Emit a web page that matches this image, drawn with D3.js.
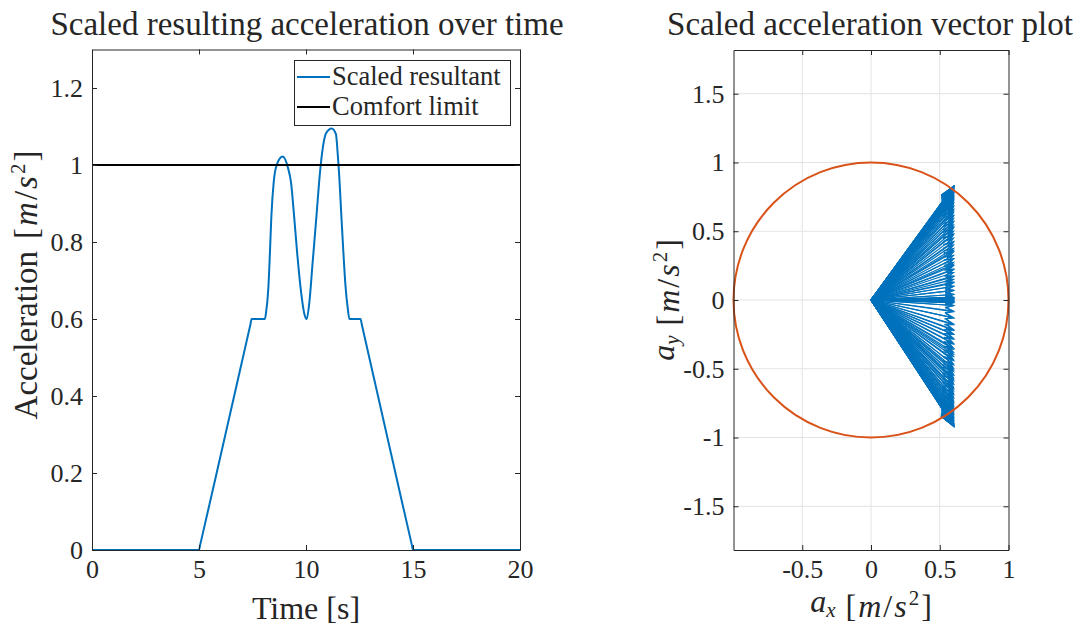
<!DOCTYPE html>
<html>
<head>
<meta charset="utf-8">
<script src="https://cdn.jsdelivr.net/npm/d3@7"></script>
<style>
  body { margin: 0; background: #fff; }
  text { font-family: "Liberation Serif", "Times New Roman", serif; fill: #262626; }
</style>
</head>
<body>
<svg id="chart" width="1080" height="627"></svg>
<script>
// ---- Scaled resultant acceleration over time ----
const timeS = [0, 5.00, 5.06, 7.40, 7.46, 8.08, 8.13, 8.24, 8.32, 8.38, 8.49, 8.63, 8.91,
  9.17, 9.30, 9.44, 9.59, 9.77, 9.93, 10.03, 10.16, 10.30, 10.50, 10.62, 10.75, 10.93,
  11.20, 11.40, 11.48, 11.56, 11.65, 11.74, 11.84, 11.95, 12.03, 12.55, 12.61, 14.94, 15.00, 20];
const resultant = [0, 0, 0.0146, 0.585, 0.6, 0.6, 0.615, 0.68, 0.78, 0.865, 0.955, 1.0, 1.022,
  0.99, 0.955, 0.87, 0.77, 0.67, 0.612, 0.6, 0.645, 0.74, 0.875, 0.96, 1.03, 1.082,
  1.095, 1.08, 1.03, 0.965, 0.87, 0.78, 0.69, 0.628, 0.6, 0.6, 0.585, 0.0146, 0, 0];
const comfortLimit = 1;
const timeTicks = [0, 5, 10, 15, 20];
const accTicks = [0, 0.2, 0.4, 0.6, 0.8, 1, 1.2];
const legendNames = ["Scaled resultant", "Comfort limit"];

// ---- Acceleration vectors (a_x, a_y) ----
// along the x axis (ramps and flat parts, a_y = 0)
const rampAx = [0.0125, 0.025, 0.0375, 0.05, 0.0625, 0.075, 0.0875, 0.1, 0.1125, 0.125, 0.1375,
  0.15, 0.1625, 0.175, 0.1875, 0.2, 0.2125, 0.225, 0.2375, 0.25, 0.2625, 0.275, 0.2875, 0.3,
  0.3125, 0.325, 0.3375, 0.35, 0.3625, 0.375, 0.3875, 0.4, 0.4125, 0.425, 0.4375, 0.45, 0.4625,
  0.475, 0.4875, 0.5, 0.5125, 0.525, 0.5375, 0.55, 0.5625, 0.575, 0.5875, 0.6, 0.6, 0.6];
// during the two lateral bumps a_x stays at this value
const bumpAx = 0.6;
const bumpAy = [
  0.01, 0.02, 0.04, 0.07, 0.10, 0.13, 0.17, 0.22, 0.26, 0.30, 0.36, 0.42, 0.48, 0.53, 0.57, 0.61,
  0.65, 0.68, 0.705, 0.725, 0.74, 0.755, 0.77, 0.78, 0.79, 0.795, 0.80, 0.805, 0.81, 0.815, 0.818,
  0.82, 0.822, 0.824, 0.825, 0.826,
  0.826, 0.825, 0.823, 0.82, 0.815, 0.81, 0.803, 0.795, 0.788, 0.78, 0.773, 0.765, 0.755, 0.745,
  0.733, 0.72, 0.70, 0.68, 0.658, 0.635, 0.613, 0.59, 0.568, 0.545, 0.523, 0.50, 0.475, 0.45,
  0.425, 0.40, 0.375, 0.35, 0.325, 0.30, 0.275, 0.25, 0.225, 0.20, 0.175, 0.15, 0.125, 0.10,
  0.07, 0.04, 0.02, 0.01,
  -0.01, -0.02, -0.04, -0.085, -0.13, -0.175, -0.22, -0.25, -0.28, -0.315, -0.35, -0.38, -0.41,
  -0.44, -0.47, -0.495, -0.52, -0.543, -0.565, -0.588, -0.61, -0.635, -0.66, -0.685, -0.71,
  -0.73, -0.75, -0.768, -0.785, -0.80, -0.815, -0.828, -0.84, -0.85, -0.86, -0.87, -0.88,
  -0.887, -0.893, -0.898, -0.903, -0.907, -0.91, -0.912, -0.914, -0.915, -0.916, -0.917, -0.917,
  -0.916, -0.915, -0.913, -0.91, -0.905, -0.90, -0.895, -0.89, -0.87, -0.85, -0.825, -0.80,
  -0.77, -0.74, -0.71, -0.68, -0.645, -0.61, -0.578, -0.545, -0.508, -0.47, -0.433, -0.395,
  -0.358, -0.32, -0.285, -0.25, -0.215, -0.18, -0.13, -0.08, -0.04, -0.02, -0.01];
const limitRadius = 1;
const axTicks = [-0.5, 0, 0.5, 1];
const ayTicks = [-1.5, -1, -0.5, 0, 0.5, 1, 1.5];

const blue = "#0072BD", orange = "#D95319", axisCol = "#262626";
const svg = d3.select("#chart");

// inward ticks on all four sides, boxed axes
function boxAxes(g, x, y, xt, yt, fmtX, fmtY) {
  const [x0, x1] = x.range(), [y0, y1] = y.range();
  g.append("g").attr("transform", `translate(0,${y0})`)
    .call(d3.axisBottom(x).tickValues(xt).tickSize(-5).tickSizeOuter(0).tickPadding(10).tickFormat(fmtX));
  g.append("g").attr("transform", `translate(0,${y1})`)
    .call(d3.axisTop(x).tickValues(xt).tickSize(-5).tickSizeOuter(0).tickFormat(""));
  g.append("g").attr("transform", `translate(${x0},0)`)
    .call(d3.axisLeft(y).tickValues(yt).tickSize(-5).tickSizeOuter(0).tickPadding(9).tickFormat(fmtY));
  g.append("g").attr("transform", `translate(${x1},0)`)
    .call(d3.axisRight(y).tickValues(yt).tickSize(-5).tickSizeOuter(0).tickFormat(""));
  g.selectAll(".domain, .tick line").attr("stroke", axisCol).attr("stroke-width", 1);
  g.selectAll(".tick text").style("font-size", "26px").attr("fill", axisCol)
    .style("font-family", '"Liberation Serif", serif');
}

// "[m/s²]" unit suffix with italic symbols
function unitLabel(t, gap) {
  t.append("tspan").attr("dx", gap).text("[");
  t.append("tspan").attr("font-style", "italic").attr("dx", "2").text("m");
  t.append("tspan").attr("dx", "2").text("/");
  t.append("tspan").attr("font-style", "italic").attr("dx", "2").text("s");
  t.append("tspan").attr("font-size", "21px").attr("dx", "2").attr("dy", "-12").text("2");
  t.append("tspan").attr("dx", "2").attr("dy", "12").text("]");
}

const fmt = d => String(d);

// ================= Left panel =================
const xT = d3.scaleLinear().domain([0, 20]).range([92, 520]);
const yA = d3.scaleLinear().domain([0, 1.3]).range([550, 49.5]);
const gL = svg.append("g");

gL.append("path")
  .datum(timeS.map((t, i) => [t, resultant[i]]))
  .attr("fill", "none").attr("stroke", blue).attr("stroke-width", 2)
  .attr("d", d3.line().x(d => xT(d[0])).y(d => yA(d[1])).curve(d3.curveMonotoneX));

gL.append("line")
  .attr("x1", xT(0)).attr("x2", xT(20)).attr("y1", yA(comfortLimit)).attr("y2", yA(comfortLimit))
  .attr("stroke", "#000").attr("stroke-width", 2);

boxAxes(gL, xT, yA, timeTicks, accTicks, fmt, fmt);

gL.append("text").attr("x", 307).attr("y", 35).attr("text-anchor", "middle")
  .style("font-size", "33px").attr("fill", "#000").text("Scaled resulting acceleration over time");
gL.append("text").attr("x", 306).attr("y", 619).attr("text-anchor", "middle")
  .style("font-size", "32px").text("Time [s]");
{
  const t = gL.append("text").attr("transform", "translate(37,285) rotate(-90)")
    .attr("text-anchor", "middle").style("font-size", "33px");
  t.append("tspan").text("Acceleration");
  unitLabel(t, 12);
}

// legend
const lg = gL.append("g");
lg.append("rect").attr("x", 294.5).attr("y", 60.5).attr("width", 216).attr("height", 65)
  .attr("fill", "#fff").attr("stroke", axisCol).attr("stroke-width", 1);
legendNames.forEach((name, i) => {
  const cy = 77 + i * 30;
  lg.append("line").attr("x1", 297).attr("x2", 330).attr("y1", cy).attr("y2", cy)
    .attr("stroke", i === 0 ? blue : "#000").attr("stroke-width", 2);
  lg.append("text").attr("x", 332).attr("y", cy + 8).style("font-size", "26.5px").text(name);
});

// ================= Right panel =================
const xV = d3.scaleLinear().domain([-1, 1]).range([733.5, 1008.5]);
const yV = d3.scaleLinear().domain([-1.818, 1.818]).range([550, 50]);
const gR = svg.append("g");

// grid
gR.append("g").selectAll("line").data(axTicks.slice(0, 3)).join("line")
  .attr("x1", d => xV(d)).attr("x2", d => xV(d)).attr("y1", 50).attr("y2", 550)
  .attr("stroke", "#e3e3e3").attr("stroke-width", 1);
gR.append("g").selectAll("line").data(ayTicks).join("line")
  .attr("x1", 733.5).attr("x2", 1008.5).attr("y1", d => yV(d)).attr("y2", d => yV(d))
  .attr("stroke", "#e3e3e3").attr("stroke-width", 1);

// quiver arrows from the origin
const vectors = rampAx.map(u => [u, 0]).concat(bumpAy.map(v => [bumpAx, v]));
function arrow([u, v]) {
  const a = 0.1, b = 0.33;
  const p = (px, py) => `${xV(px)},${yV(py)}`;
  return `M${p(0, 0)}L${p(u, v)}` +
    `M${p(u - a * (u + b * v), v - a * (v - b * u))}L${p(u, v)}L${p(u - a * (u - b * v), v - a * (v + b * u))}`;
}
gR.append("g").selectAll("path").data(vectors).join("path")
  .attr("d", arrow).attr("fill", "none").attr("stroke", blue).attr("stroke-width", 1.2);

// comfort circle
gR.append("ellipse").attr("cx", xV(0)).attr("cy", yV(0))
  .attr("rx", xV(limitRadius) - xV(0)).attr("ry", yV(0) - yV(limitRadius))
  .attr("fill", "none").attr("stroke", orange).attr("stroke-width", 2);

boxAxes(gR, xV, yV, axTicks, ayTicks, fmt, fmt);

gR.append("text").attr("x", 870).attr("y", 35).attr("text-anchor", "middle")
  .style("font-size", "33px").attr("fill", "#000").text("Scaled acceleration vector plot");
{
  const t = gR.append("text").attr("x", 871).attr("y", 612).attr("text-anchor", "middle")
    .style("font-size", "32px");
  t.append("tspan").attr("font-style", "italic").text("a");
  t.append("tspan").attr("font-style", "italic").attr("font-size", "21px").attr("dy", "5").text("x");
  t.append("tspan").attr("dy", "-5").text("");
  unitLabel(t, 10);
}
{
  const t = gR.append("text").attr("transform", "translate(674,300) rotate(-90)")
    .attr("text-anchor", "middle").style("font-size", "32px");
  t.append("tspan").attr("font-style", "italic").text("a");
  t.append("tspan").attr("font-style", "italic").attr("font-size", "21px").attr("dy", "5").text("y");
  t.append("tspan").attr("dy", "-5").text("");
  unitLabel(t, 10);
}
</script>
</body>
</html>
